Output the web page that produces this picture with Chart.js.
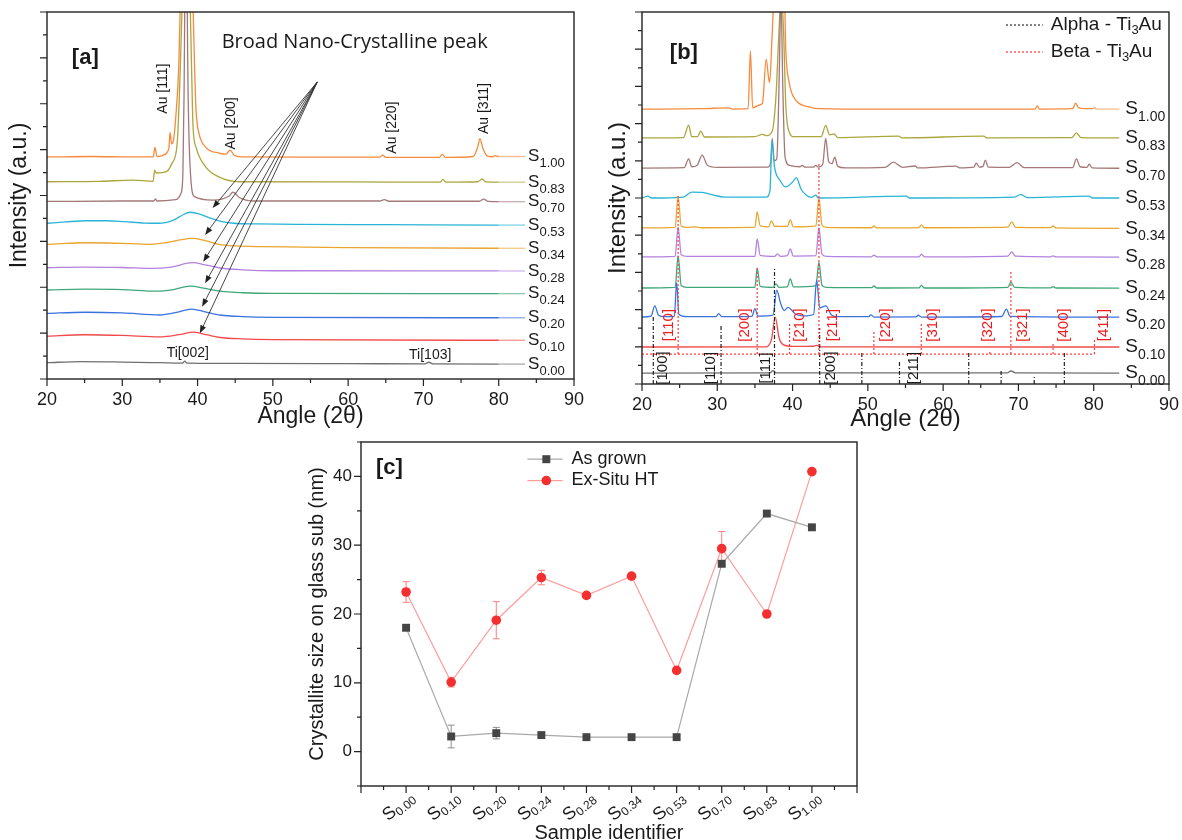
<!DOCTYPE html>
<html>
<head>
<meta charset="utf-8">
<script src="https://cdn.jsdelivr.net/npm/chart.js@4.4.0/dist/chart.umd.min.js"></script>
<style>
  html, body { margin: 0; padding: 0; background: #fff; width: 1182px; height: 840px; overflow: hidden; }
  canvas { position: absolute; }
</style>
</head>
<body>
<canvas id="chartA" width="590" height="436" style="left:0;top:0"></canvas>
<canvas id="chartB" width="592" height="436" style="left:590px;top:0"></canvas>
<canvas id="chartC" width="600" height="440" style="left:300px;top:420px"></canvas>
<script>
// ---- sample names / colours (bottom to top) ----
const sampleNames = ['0.00', '0.10', '0.20', '0.24', '0.28', '0.34', '0.53', '0.70', '0.83', '1.00'];
const sampleColors = ['#6f6f6f', '#f24a4a', '#3a72de', '#3fa679', '#b381df', '#eaa52f', '#28b4d6', '#a47878', '#aca63c', '#f78a3c'];

// ---- panel [a] : as grown XRD, [angle, intensity a.u.] ----
const a000 = [[20,0.71],[24.5,0.76],[30,0.74],[35,0.71],[38,0.69],[38.3,0.78],[38.6,0.69],[45,0.68],[60,0.67],[70.2,0.66],[70.7,0.73],[71.3,0.66],[80,0.65],[83.5,0.65]];
const a010 = [[20,1.87],[25,1.93],[30,1.9],[35,1.84],[37.5,1.93],[39.5,2.04],[41.3,1.92],[43,1.81],[46,1.75],[50,1.72],[80,1.69],[83.5,1.69]];
const a020 = [[20,2.86],[25,2.91],[30,2.88],[35,2.79],[37.2,2.9],[39.2,3.05],[41,2.93],[43,2.79],[46,2.72],[50,2.69],[80,2.67],[83.5,2.67]];
const a024 = [[20,3.88],[25,3.92],[30,3.9],[34.5,3.83],[36.8,3.9],[39,4.05],[41,3.95],[43,3.83],[46,3.76],[50,3.73],[80,3.72],[83.5,3.72]];
const a028 = [[20,4.85],[25,4.88],[30,4.86],[34,4.82],[36.5,4.88],[39.3,5.07],[41,4.98],[43,4.84],[46,4.76],[50,4.72],[80,4.71],[83.5,4.71]];
const a034 = [[20,5.87],[22.5,5.91],[25.3,5.94],[28,5.93],[31,5.9],[33.8,5.87],[35.8,5.94],[37.5,6.05],[39.3,6.13],[40.8,6.05],[42.8,5.87],[45,5.8],[48.8,5.77],[60,5.73],[80,5.7],[83.5,5.7]];
const a053 = [[20,6.79],[22.5,6.85],[25.3,6.9],[28,6.9],[30.3,6.86],[33,6.8],[34.8,6.79],[36.8,6.93],[38,7.15],[39,7.27],[40.2,7.2],[41.8,7.0],[43.3,6.86],[44.8,6.79],[48,6.76],[53.8,6.74],[65,6.73],[80,6.71],[83.5,6.71]];
const a070 = [[20,7.74],[30,7.76],[34.2,7.76],[34.4,7.85],[34.6,7.76],[37.1,7.82],[37.8,8.1],[38.05,8.97],[38.2,12.3],[38.45,21],[38.75,12.3],[39.0,9.3],[39.6,7.95],[42,7.8],[44.2,7.98],[44.7,8.15],[45.6,7.9],[47.4,7.76],[64.2,7.76],[64.8,7.82],[65.4,7.75],[77.4,7.75],[78,7.84],[78.6,7.74],[80,7.73],[83.5,7.73]];
const a083 = [[20,8.6],[27,8.62],[31.4,8.67],[34.1,8.62],[34.3,9.11],[34.5,8.98],[35.9,9.05],[36.6,9.4],[37.3,10.3],[37.7,13.5],[38.1,18],[38.5,21],[38.9,18],[39.2,13.6],[39.4,11],[39.8,10.1],[41.1,9.24],[42.9,8.8],[45.5,8.6],[60,8.59],[72.2,8.58],[72.6,8.7],[73,8.58],[77.2,8.6],[77.8,8.72],[78.3,8.59],[80,8.58],[83.5,8.58]];
const a100 = [[20,9.68],[26,9.7],[31,9.68],[34.1,9.68],[34.35,10.1],[34.6,9.7],[35.3,9.74],[36.0,9.9],[36.2,10.1],[36.35,10.75],[36.55,10.25],[36.8,10.4],[37.1,11.4],[37.5,13.6],[37.8,17.5],[38.5,21],[39.3,17.5],[39.6,13.6],[39.8,11.7],[40.2,10.7],[41.1,10.1],[42.9,9.85],[43.8,9.8],[44.3,9.98],[44.9,9.75],[46.5,9.68],[55,9.67],[64.2,9.67],[64.6,9.76],[65,9.66],[72.1,9.66],[72.5,9.79],[72.9,9.66],[76.6,9.7],[77.2,10.1],[77.5,10.48],[77.9,10.05],[78.5,9.72],[79.2,9.69],[79.5,9.74],[80,9.7],[83.5,9.7]];
const tracesA = [a000, a010, a020, a024, a028, a034, a053, a070, a083, a100];

// annotations of panel [a]
const auLabels = ['Au [111]', 'Au [200]', 'Au [220]', 'Au [311]'];
const auLabelX = [35.4, 44.4, 65.8, 78.0];
const auLabelY = [12.66, 11.14, 10.96, 11.79];
const tiLabels = ['Ti[002]', 'Ti[103]'];
const tiLabelX = [38.7, 70.9];
const tiLabelY = [1.13, 1.05];
const arrowFrom = [55.9, 12.95];
const arrowTo = [[42.0, 7.45], [41.0, 6.28], [40.75, 5.11], [41.0, 4.17], [40.6, 3.15], [40.3, 1.99]];

// ---- panel [b] : ex-situ heat treated XRD ----
const b000 = [[20,0.59],[37.0,0.6],[37.4,0.72],[37.8,0.6],[68.5,0.6],[69.0,0.7],[69.6,0.6],[83.4,0.59]];
const b010 = [[20,1.99],[36.5,2.0],[37.2,2.4],[37.7,3.6],[38.2,2.5],[38.8,2.1],[40,2.02],[42.8,2.03],[43.2,2.08],[43.6,2.0],[83.4,1.99]];
const b020 = [[20,3.6],[21.2,3.65],[21.7,4.2],[22.2,3.7],[23,3.62],[24.3,3.64],[24.6,5.45],[24.9,3.75],[26,3.62],[29.8,3.62],[30.2,3.78],[30.6,3.62],[34.6,3.64],[35.0,4.05],[35.4,3.65],[37.4,3.7],[37.9,5.05],[38.4,4.35],[38.9,3.95],[39.4,4.12],[39.8,4.0],[40.4,3.75],[41.5,3.66],[42.8,3.75],[43.2,5.6],[43.6,4.1],[44.4,4.2],[45.2,3.7],[46,3.62],[50.1,3.62],[50.4,3.72],[50.8,3.6],[56.4,3.61],[56.7,3.7],[57.1,3.6],[67.8,3.63],[68.4,4.03],[68.9,3.64],[83.4,3.6]];
const b024 = [[20,5.16],[24.4,5.19],[24.8,6.9],[25.2,5.3],[26,5.2],[35.0,5.2],[35.3,6.23],[35.7,5.25],[37.4,5.2],[37.8,5.38],[38.2,5.2],[39.3,5.22],[39.7,5.65],[40.1,5.22],[43.1,5.28],[43.5,6.55],[43.9,5.32],[44.5,5.2],[50.5,5.18],[50.8,5.27],[51.2,5.16],[56.8,5.17],[57.1,5.3],[57.5,5.16],[68.6,5.2],[69.0,5.48],[69.5,5.2],[74.3,5.17],[74.6,5.23],[75,5.16],[83.4,5.15]];
const b028 = [[20,6.83],[24.4,6.86],[24.8,8.45],[25.2,6.95],[26,6.86],[35.0,6.86],[35.3,7.8],[35.7,6.92],[37.6,6.86],[38.0,7.0],[38.4,6.86],[39.3,6.9],[39.7,7.26],[40.1,6.88],[43.1,6.9],[43.5,8.4],[43.9,6.98],[44.5,6.86],[50.5,6.84],[50.8,6.93],[51.2,6.83],[56.8,6.84],[57.1,6.98],[57.5,6.84],[68.6,6.88],[69.1,7.1],[69.6,6.87],[74.3,6.84],[74.6,6.89],[75,6.83],[83.4,6.82]];
const b034 = [[20,8.39],[24.4,8.42],[24.8,10.1],[25.2,8.5],[26,8.42],[27,8.45],[28,8.4],[35.0,8.43],[35.3,9.25],[35.7,8.5],[36.8,8.45],[37.2,8.77],[37.6,8.48],[39.3,8.47],[39.7,8.82],[40.1,8.45],[43.1,8.5],[43.5,10.0],[43.9,8.55],[44.5,8.42],[50.5,8.4],[50.8,8.5],[51.2,8.39],[56.8,8.41],[57.1,8.56],[57.5,8.4],[68.6,8.43],[69.1,8.72],[69.6,8.42],[74.3,8.41],[74.6,8.5],[75,8.39],[83.4,8.37]];
const b053 = [[20,10.0],[20.8,10.1],[21.2,10.0],[25.5,10.05],[26.6,10.32],[28,10.3],[29.5,10.15],[31,10.05],[36.5,10.05],[37.0,10.4],[37.26,13.1],[37.6,11.67],[38.3,10.97],[39.1,10.6],[40.0,10.86],[40.5,11.1],[41.1,10.5],[41.8,10.16],[42.5,10.03],[43.1,10.15],[43.4,10.0],[55.1,10.1],[55.5,10.0],[69.5,10.05],[70.3,10.2],[71.2,10.02],[79.4,10.1],[79.8,10.0],[83.4,10.0]];
const b070 = [[20,11.61],[25.6,11.63],[26.2,12.1],[26.6,11.68],[27.3,11.75],[28.0,12.3],[28.7,11.75],[30,11.65],[36.7,11.66],[37.1,11.9],[37.3,13.2],[37.55,12.0],[37.9,12.1],[38.25,17],[38.45,21],[38.7,16],[39.0,12.2],[39.6,11.75],[41.0,11.68],[41.3,11.75],[41.6,11.66],[42.8,11.66],[43.1,11.75],[43.4,11.66],[44.0,11.8],[44.4,13.2],[44.8,11.95],[45.25,11.85],[45.6,12.2],[46.0,11.7],[47,11.62],[52.3,11.65],[53.4,11.93],[54.6,11.65],[56.3,11.72],[56.6,11.62],[61.7,11.71],[62.2,11.62],[64.1,11.66],[64.4,11.88],[64.8,11.66],[65.3,11.7],[65.6,12.04],[66.0,11.66],[68.8,11.65],[69.8,11.9],[70.8,11.63],[77.2,11.63],[77.7,12.1],[78.2,11.68],[79.1,11.65],[79.4,11.82],[79.8,11.62],[83.4,11.6]];
const b083 = [[20,13.23],[25.5,13.25],[26.2,13.92],[26.6,13.3],[27.4,13.3],[27.8,13.6],[28.3,13.28],[35,13.3],[36.0,13.42],[36.6,13.35],[37.3,13.6],[37.8,15.5],[38.2,19],[38.5,21],[38.8,19],[39.1,15],[39.5,13.6],[40.2,13.3],[43.8,13.3],[44.4,13.9],[44.9,13.4],[45.5,13.45],[46,13.25],[54.1,13.33],[54.5,13.23],[65.4,13.33],[65.8,13.23],[77.1,13.25],[77.7,13.5],[78.3,13.25],[83.4,13.23]];
const b100 = [[20,14.78],[28,14.8],[31.5,14.85],[32,14.78],[34.1,14.8],[34.4,17.9],[34.7,14.85],[35.6,15.0],[36.0,15.1],[36.5,17.47],[36.8,16.5],[36.95,16.2],[37.3,18.9],[37.6,21],[38.9,21],[39.1,17.96],[39.55,16.2],[40.4,15.27],[42.2,14.9],[43,14.82],[50,14.78],[72.2,14.78],[72.5,14.95],[72.8,14.78],[77.2,14.8],[77.6,15.1],[78.0,14.85],[79.9,14.8],[80.1,14.88],[80.3,14.78],[83.4,14.78]];
const tracesB = [b000, b010, b020, b024, b028, b034, b053, b070, b083, b100];

// reference lines of panel [b]
const alphaAngles = [21.5, 30.5, 37.6, 43.6, 49.2, 54.2, 63.4, 67.7, 72.1, 76.1];
const alphaTops = [3.71, 3.23, 6.29, 3.01, 1.72, 1.29, 1.72, 0.7, 0.43, 1.72];
const alphaLabels = ['[100]', '[110]', '[111]', '[200]', '[211]'];
const alphaLabelX = [22.8, 29.1, 36.4, 45.1, 56.1];
const betaBase = 1.61;
const betaAngles = [24.8, 35.3, 39.6, 43.5, 50.8, 57.1, 66.2, 69.0, 74.6, 80.1];
const betaTops = [10.16, 6.29, 3.33, 11.94, 2.8, 3.28, 1.83, 6.13, 2.26, 2.47];
const betaLabels = ['[110]', '[200]', '[210]', '[211]', '[220]', '[310]', '[320]', '[321]', '[400]', '[411]'];
const betaLabelX = [23.6, 33.6, 41.0, 45.4, 52.4, 58.7, 66.0, 70.6, 76.1, 81.4];

// ---- panel [c] : crystallite size ----
const asGrown = [18.0, 2.2, 2.68, 2.4, 2.1, 2.1, 2.1, 27.3, 34.6, 32.6];
const asGrownErr = [0.4, 1.65, 0.84, 0.2, 0.2, 0.2, 0.2, 0.3, 0.3, 0.3];
const exSitu = [23.2, 10.1, 19.1, 25.3, 22.7, 25.5, 11.8, 29.5, 20.0, 40.7];
const exSituErr = [1.5, 0.7, 2.7, 1.05, 0.3, 0.3, 0.3, 2.5, 0.3, 0.3];

const FONT = '"Liberation Sans", Arial, sans-serif';
const INK = '#1a1a1a';
Chart.defaults.font.family = FONT;
Chart.defaults.color = INK;
Chart.defaults.animation = false;

function xy(arr) {
    return arr.map(p => ({ x: p[0], y: p[1] }));
}

// draw text made of runs: [text, size, dy, weight]
function runs(ctx, x, y, parts, align) {
    const f = p => (p[3] || '') + ' ' + p[1] + 'px ' + FONT;
    let w = 0;
    parts.forEach(p => { ctx.font = f(p); w += ctx.measureText(p[0]).width; });
    let cx = align === 'right' ? x - w : (align === 'center' ? x - w / 2 : x);
    ctx.textAlign = 'left';
    ctx.textBaseline = 'middle';
    parts.forEach(p => {
        ctx.font = f(p);
        ctx.fillText(p[0], cx, y + (p[2] || 0));
        cx += ctx.measureText(p[0]).width;
    });
}

function vtext(ctx, s, x, y, font, color) {
    ctx.save();
    ctx.translate(x, y);
    ctx.rotate(-Math.PI / 2);
    ctx.font = font;
    ctx.fillStyle = color;
    ctx.textAlign = 'center';
    ctx.textBaseline = 'middle';
    ctx.fillText(s, 0, 0);
    ctx.restore();
}

function isMajor(v, step) {
    return Math.abs(v / step - Math.round(v / step)) < 1e-6;
}

// box around the plot and major/minor tick marks
function frameAndTicks(xMajor, yMajor) {
    return {
        id: 'frameAndTicks',
        afterDraw(chart) {
            const { ctx, chartArea: a, scales } = chart;
            ctx.save();
            ctx.strokeStyle = '#222';
            ctx.lineWidth = 1.4;
            ctx.strokeRect(a.left, a.top, a.right - a.left, a.bottom - a.top);
            ctx.lineWidth = 1.2;
            ctx.beginPath();
            scales.x.ticks.forEach(t => {
                const px = scales.x.getPixelForValue(t.value);
                const len = isMajor(t.value, xMajor) ? 7 : 4;
                ctx.moveTo(px, a.bottom);
                ctx.lineTo(px, a.bottom + len);
            });
            scales.y.ticks.forEach(t => {
                const py = scales.y.getPixelForValue(t.value);
                const len = isMajor(t.value, yMajor) ? 7 : 4;
                ctx.moveTo(a.left, py);
                ctx.lineTo(a.left - len, py);
            });
            ctx.stroke();
            ctx.restore();
        }
    };
}

function traceSet(data, color) {
    return {
        data: xy(data),
        borderColor: color,
        borderWidth: 1.3,
        pointRadius: 0,
        cubicInterpolationMode: 'monotone',
        segment: { borderColor: c => c.p0.parsed.x >= 79.9 ? color + '99' : undefined }
    };
}

function xrdScales(opts) {
    return {
        x: {
            type: 'linear', min: 20, max: 90,
            afterFit: s => { s.height = opts.xh; },
            border: { display: false },
            grid: { drawOnChartArea: false, tickLength: 7, tickColor: 'rgba(0,0,0,0)' },
            ticks: { stepSize: 5, autoSkip: false, maxRotation: 0, padding: 3, font: { size: 18 }, color: INK,
                callback: v => v % 10 === 0 ? v : '' },
            title: { display: true, text: 'Angle (2θ)', font: { size: opts.tsize }, color: INK, padding: { top: 0, bottom: opts.xpad } }
        },
        y: {
            min: 0, max: opts.ymax,
            afterFit: s => { s.width = opts.yw; },
            border: { display: false },
            grid: { drawOnChartArea: false, tickLength: 7, tickColor: 'rgba(0,0,0,0)' },
            ticks: { stepSize: 1, autoSkip: false, callback: () => '' },
            title: { display: true, text: 'Intensity (a.u.)', font: { size: opts.tsize }, color: INK, padding: { top: opts.ypad, bottom: 0 } }
        }
    };
}

// sample labels S_x at the right end of each trace
function sampleLabels(traces, labelX, big, small) {
    return {
        id: 'sampleLabels',
        afterDatasetsDraw(chart) {
            const { ctx, scales } = chart;
            ctx.save();
            ctx.fillStyle = INK;
            traces.forEach((tr, i) => {
                const last = tr[tr.length - 1];
                runs(ctx, scales.x.getPixelForValue(labelX), scales.y.getPixelForValue(last[1]),
                    [['S', big, 0], [sampleNames[i], small, big * 0.42]], 'left');
            });
            ctx.restore();
        }
    };
}

// ---------------- panel [a] ----------------
new Chart(document.getElementById('chartA'), {
    type: 'line',
    data: { datasets: tracesA.map((t, i) => traceSet(t, sampleColors[i])) },
    options: {
        responsive: false,
        layout: { padding: { top: 12, right: 16, left: 0, bottom: 0 } },
        plugins: { legend: { display: false }, tooltip: { enabled: false } },
        scales: xrdScales({ xh: 57, yw: 47, ymax: 16, tsize: 23, xpad: 6, ypad: 6 })
    },
    plugins: [
        frameAndTicks(10, 2),
        sampleLabels(tracesA, 83.9, 17, 13),
        {
            id: 'notesA',
            afterDatasetsDraw(chart) {
                const { ctx, scales: { x, y } } = chart;
                ctx.save();
                ctx.fillStyle = INK;
                runs(ctx, x.getPixelForValue(23.3), y.getPixelForValue(14.0), [['[a]', 22, 0, 'bold']], 'left');
                ctx.font = '20px "Open Sans", sans-serif';
                ctx.textAlign = 'left';
                ctx.textBaseline = 'middle';
                ctx.fillText('Broad Nano-Crystalline peak', x.getPixelForValue(43.2), y.getPixelForValue(14.69));
                auLabels.forEach((s, i) => vtext(ctx, s, x.getPixelForValue(auLabelX[i]), y.getPixelForValue(auLabelY[i]), '14px ' + FONT, INK));
                tiLabels.forEach((s, i) => {
                    ctx.font = '14px ' + FONT;
                    ctx.textAlign = 'center';
                    ctx.fillText(s, x.getPixelForValue(tiLabelX[i]), y.getPixelForValue(tiLabelY[i]));
                });
                // arrows to the broad nano-crystalline peak
                ctx.strokeStyle = '#333';
                ctx.fillStyle = '#222';
                ctx.lineWidth = 0.9;
                const x0 = x.getPixelForValue(arrowFrom[0]), y0 = y.getPixelForValue(arrowFrom[1]);
                arrowTo.forEach(t => {
                    const x1 = x.getPixelForValue(t[0]), y1 = y.getPixelForValue(t[1]);
                    const ang = Math.atan2(y1 - y0, x1 - x0);
                    const c = Math.cos(ang), s = Math.sin(ang);
                    ctx.beginPath();
                    ctx.moveTo(x0, y0);
                    ctx.lineTo(x1 - 6 * c, y1 - 6 * s);
                    ctx.stroke();
                    ctx.beginPath();
                    ctx.moveTo(x1, y1);
                    ctx.lineTo(x1 - 8 * c + 3 * s, y1 - 8 * s - 3 * c);
                    ctx.lineTo(x1 - 8 * c - 3 * s, y1 - 8 * s + 3 * c);
                    ctx.closePath();
                    ctx.fill();
                });
                ctx.restore();
            }
        }
    ]
});

// ---------------- panel [b] ----------------
const alphaData = [];
alphaAngles.forEach((a, i) => {
    alphaData.push({ x: a, y: 0 }, { x: a, y: alphaTops[i] }, { x: a, y: null });
});
const betaData = [{ x: 20, y: betaBase }, { x: 80.1, y: betaBase }, { x: 80.1, y: null }];
betaAngles.forEach((a, i) => {
    betaData.push({ x: a, y: betaBase }, { x: a, y: betaTops[i] }, { x: a, y: null });
});

new Chart(document.getElementById('chartB'), {
    type: 'line',
    data: {
        datasets: [
            { label: 'Beta - Ti3Au', data: betaData, borderColor: '#ff3b3b', borderWidth: 1.2, borderDash: [2, 2], pointRadius: 0, spanGaps: false },
            { label: 'Alpha - Ti3Au', data: alphaData, borderColor: '#222', borderWidth: 1.2, borderDash: [4, 2, 1, 2], pointRadius: 0, spanGaps: false }
        ].concat(tracesB.map((t, i) => traceSet(t, sampleColors[i])))
    },
    options: {
        responsive: false,
        layout: { padding: { top: 12, right: 10, left: 0, bottom: 0 } },
        plugins: { legend: { display: false }, tooltip: { enabled: false } },
        scales: xrdScales({ xh: 52, yw: 52, ymax: 20, tsize: 24, xpad: 2, ypad: 14 })
    },
    plugins: [
        frameAndTicks(10, 2),
        sampleLabels(tracesB, 84.2, 19, 14),
        {
            id: 'notesB',
            afterDatasetsDraw(chart) {
                const { ctx, scales: { x, y } } = chart;
                ctx.save();
                ctx.fillStyle = INK;
                runs(ctx, x.getPixelForValue(23.7), y.getPixelForValue(17.8), [['[b]', 22, 0, 'bold']], 'left');
                betaLabels.forEach((s, i) => vtext(ctx, s, x.getPixelForValue(betaLabelX[i]), y.getPixelForValue(3.17), '15px ' + FONT, '#ee1c1c'));
                alphaLabels.forEach((s, i) => vtext(ctx, s, x.getPixelForValue(alphaLabelX[i]), y.getPixelForValue(0.86), '15px ' + FONT, INK));
                // legend
                const rows = [['Alpha - Ti', '#555', 19.3], ['Beta - Ti', '#ff5a5a', 17.85]];
                rows.forEach(r => {
                    const py = y.getPixelForValue(r[2]);
                    ctx.strokeStyle = r[1];
                    ctx.lineWidth = 1.3;
                    ctx.setLineDash([2, 2]);
                    ctx.beginPath();
                    ctx.moveTo(x.getPixelForValue(68.35), py);
                    ctx.lineTo(x.getPixelForValue(73.24), py);
                    ctx.stroke();
                    ctx.setLineDash([]);
                    ctx.fillStyle = INK;
                    runs(ctx, x.getPixelForValue(74.3), py, [[r[0], 19], ['3', 13, 5], ['Au', 19]], 'left');
                });
                ctx.restore();
            }
        }
    ]
});

// ---------------- panel [c] ----------------
const sampleIdx = sampleNames.map((s, i) => i);

new Chart(document.getElementById('chartC'), {
    type: 'line',
    data: {
        datasets: [
            { label: 'As grown', data: sampleIdx.map(i => ({ x: i, y: asGrown[i] })), borderColor: '#a9a9a9', borderWidth: 1.2,
              pointStyle: 'rect', pointRadius: 5.6, pointBackgroundColor: '#454545', pointBorderColor: '#454545', pointBorderWidth: 0 },
            { label: 'Ex-Situ HT', data: sampleIdx.map(i => ({ x: i, y: exSitu[i] })), borderColor: '#ff9c9c', borderWidth: 1.2,
              pointStyle: 'circle', pointRadius: 4.8, pointBackgroundColor: '#f42f2f', pointBorderColor: '#f42f2f', pointBorderWidth: 0 }
        ]
    },
    options: {
        responsive: false,
        layout: { padding: { top: 22, right: 43, left: 0, bottom: 0 } },
        plugins: { legend: { display: false }, tooltip: { enabled: false } },
        scales: {
            x: {
                type: 'linear', min: -1, max: 10,
                afterFit: s => { s.height = 74; },
                border: { display: false },
                grid: { drawOnChartArea: false, tickLength: 7, tickColor: 'rgba(0,0,0,0)' },
                ticks: { stepSize: 0.5, autoSkip: false, maxRotation: 0, callback: () => '' },
                title: { display: true, text: 'Sample identifier', font: { size: 20 }, color: INK, padding: { top: 0, bottom: 15 } }
            },
            y: {
                min: -5, max: 45,
                afterFit: s => { s.width = 61; },
                border: { display: false },
                grid: { drawOnChartArea: false, tickLength: 5, tickColor: 'rgba(0,0,0,0)' },
                ticks: { stepSize: 5, autoSkip: false, padding: 4, font: { size: 17 }, color: INK,
                    callback: v => v % 10 === 0 ? v : '' },
                title: { display: true, text: 'Crystallite size on glass sub (nm)', font: { size: 20 }, color: INK, padding: { top: 5, bottom: 0 } }
            }
        }
    },
    plugins: [
        frameAndTicks(1, 10),
        {
            id: 'errorBars',
            beforeDatasetsDraw(chart) {
                const { ctx, scales: { x, y } } = chart;
                ctx.save();
                ctx.lineWidth = 1;
                [[asGrown, asGrownErr, '#8f8f8f'], [exSitu, exSituErr, '#ff7f7f']].forEach(([vals, errs, col]) => {
                    ctx.strokeStyle = col;
                    ctx.beginPath();
                    vals.forEach((v, i) => {
                        const px = x.getPixelForValue(i);
                        const top = y.getPixelForValue(v + errs[i]);
                        const bot = y.getPixelForValue(v - errs[i]);
                        ctx.moveTo(px, top); ctx.lineTo(px, bot);
                        ctx.moveTo(px - 3.5, top); ctx.lineTo(px + 3.5, top);
                        ctx.moveTo(px - 3.5, bot); ctx.lineTo(px + 3.5, bot);
                    });
                    ctx.stroke();
                });
                ctx.restore();
            }
        },
        {
            id: 'notesC',
            afterDraw(chart) {
                const { ctx, chartArea: a, scales: { x, y } } = chart;
                ctx.save();
                ctx.fillStyle = INK;
                runs(ctx, x.getPixelForValue(-0.67), y.getPixelForValue(41.2), [['[c]', 22, 0, 'bold']], 'left');
                // rotated sample labels
                sampleNames.forEach((s, i) => {
                    ctx.save();
                    ctx.translate(x.getPixelForValue(i) + 6, a.bottom + 9);
                    ctx.rotate(-40 * Math.PI / 180);
                    ctx.fillStyle = INK;
                    runs(ctx, 0, 0, [['S', 18, 0], [s, 12, 5]], 'right');
                    ctx.restore();
                });
                // legend
                const rows = [['As grown', '#a9a9a9', '#454545', 'rect', 42.5], ['Ex-Situ HT', '#ff9c9c', '#f42f2f', 'circle', 39.4]];
                rows.forEach(r => {
                    const py = y.getPixelForValue(r[4]);
                    const mx = x.getPixelForValue(3.11);
                    ctx.strokeStyle = r[1];
                    ctx.lineWidth = 1.2;
                    ctx.beginPath();
                    ctx.moveTo(x.getPixelForValue(2.69), py);
                    ctx.lineTo(x.getPixelForValue(3.47), py);
                    ctx.stroke();
                    ctx.fillStyle = r[2];
                    ctx.beginPath();
                    if (r[3] === 'rect') ctx.rect(mx - 4, py - 4, 8, 8);
                    else ctx.arc(mx, py, 4.8, 0, Math.PI * 2);
                    ctx.fill();
                    ctx.fillStyle = INK;
                    runs(ctx, x.getPixelForValue(3.67), py, [[r[0], 18]], 'left');
                });
                ctx.restore();
            }
        }
    ]
});
</script>
</body>
</html>
